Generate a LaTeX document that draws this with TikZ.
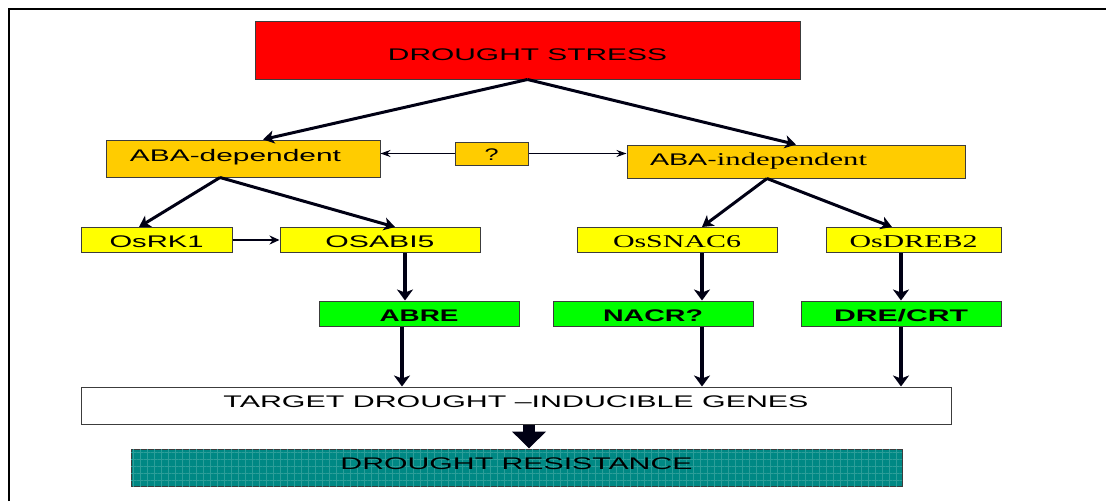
\documentclass[tikz,border=0pt]{standalone}
\usepackage{fontspec}
\setmainfont{Liberation Sans}
\newfontfamily\tmsfont{Liberation Serif}
\usepackage{graphicx}
\usetikzlibrary{arrows.meta,calc,patterns.meta}

\newcommand{\fw}[2]{\resizebox{#1}{\height}{#2}}
\newcommand{\tms}{\tmsfont\fontsize{18}{20}\selectfont}

\definecolor{dsred}{RGB}{255,0,0}
\definecolor{abagold}{RGB}{255,204,0}
\definecolor{genyel}{RGB}{255,255,0}
\definecolor{elgreen}{RGB}{0,255,0}
\definecolor{resteal}{RGB}{0,136,132}
\definecolor{resgrid}{RGB}{45,158,153}
\definecolor{arrcol}{RGB}{0,0,20}
\definecolor{boxline}{RGB}{60,60,60}

\begin{document}
\begin{tikzpicture}[x=1pt,y=-1pt,
  box/.style={draw=boxline, line width=1pt, inner sep=0pt, text=black,
    text height=12pt, text depth=0pt, font=\fontsize{16.8}{18}\selectfont},
  tx/.style 2 args={text height=#1, text depth=#2},
  thk/.style={draw=arrcol, line width=3pt, -{Stealth[length=11pt,width=13pt,inset=3pt]}},
  vthk/.style={draw=arrcol, line width=4.5pt, -{Stealth[length=11pt,width=16pt,inset=3pt]}},
  thin/.style={draw=arrcol, line width=1pt, -{Stealth[length=10pt,width=7pt]}},
  med/.style={draw=arrcol, line width=2pt, -{Stealth[length=10pt,width=9pt]}},
  bigarr/.style={draw=arrcol, line width=12pt, -{Triangle[length=17pt,width=33pt]}}
]
\useasboundingbox (0,0) rectangle (1106,501);

% outer frame
\draw[line width=1.5pt] (9,501) -- (9,9) -- (1106,9);

% nodes
\node[box, fill=dsred, minimum width=545pt, minimum height=58pt, tx={20pt}{0pt}]
  (ds) at (527.5,50) {\fw{279pt}{DROUGHT STRESS}};
\node[box, fill=abagold, minimum width=274pt, minimum height=37pt, tx={12pt}{7pt}]
  (abad) at (243,158.5) {\makebox[274pt][l]{\hspace{24pt}\fw{211pt}{ABA-dependent}}};
\node[box, fill=abagold, minimum width=73pt, minimum height=23pt, tx={14pt}{0pt}]
  (q) at (491.5,153.5) {\fw{14pt}{?}};
\node[box, fill=abagold, minimum width=338pt, minimum height=33pt, tx={12pt}{5pt}]
  (abai) at (796,161.5) {\makebox[338pt][l]{\hspace{23pt}\fw{217pt}{ABA-{\tms independent}}}};

\node[box, fill=genyel, minimum width=151pt, minimum height=25pt, tx={15pt}{0pt}]
  (osrk1) at (156.5,240) {\fw{94pt}{OsRK1}};
\node[box, fill=genyel, minimum width=200pt, minimum height=25pt, tx={15pt}{0pt}]
  (osabi5) at (380,240) {\fw{109pt}{OSABI5}};
\node[box, fill=genyel, minimum width=200pt, minimum height=25pt, tx={15pt}{0pt}]
  (ossnac6) at (677,240) {\fw{128pt}{\tms OsSNAC6}};
\node[box, fill=genyel, minimum width=175pt, minimum height=25pt, tx={15pt}{0pt}]
  (osdreb2) at (913.5,240) {\fw{128pt}{\tms OsDREB2}};

\node[box, fill=elgreen, minimum width=200pt, minimum height=25pt, tx={15pt}{0pt}]
  (abre) at (419,313.5) {\fw{79pt}{\bfseries ABRE}};
\node[box, fill=elgreen, minimum width=200pt, minimum height=25pt, tx={15pt}{0pt}]
  (nacr) at (653,313.5) {\fw{100pt}{\bfseries NACR?}};
\node[box, fill=elgreen, minimum width=200pt, minimum height=25pt, tx={15pt}{0pt}]
  (dre) at (901,313.5) {\fw{134pt}{\bfseries DRE/CRT}};

\node[box, fill=white, minimum width=870pt, minimum height=37pt, tx={12pt}{8pt}]
  (target) at (516,405.5) {\fw{585pt}{TARGET DROUGHT –INDUCIBLE GENES}};
\node[box, fill=resteal, minimum width=771pt, minimum height=37pt, tx={12pt}{9pt},
  postaction={pattern={Hatch[angle=0,distance=7pt,line width=0.8pt]}, pattern color=resgrid}]
  (res) at (516.5,467.5) {};
\node[inner sep=0pt, text height=12pt, text depth=9pt, font=\fontsize{16.8}{18}\selectfont]
  (restxt) at (res.center) {\fw{352pt}{DROUGHT RESISTANCE}};

% connectors
\draw[thk] (ds.south) -- ([xshift=20pt]abad.north);
\draw[thk] (ds.south) -- (abai.north);
\draw[thin] (q.west) -- (q.west -| abad.east);
\draw[thin] (q.east) -- (q.east -| abai.west);

\coordinate (abadb) at ([xshift=-23pt]abad.south);
\draw[thk] (abadb) -- ([xshift=-17.5pt]osrk1.north);
\draw[thk] (abadb) -- ([xshift=15pt]osabi5.north);
\coordinate (abaib) at ([xshift=-29pt]abai.south);
\draw[thk] (abaib) -- ([xshift=25pt]ossnac6.north);
\draw[thk] (abaib) -- ([xshift=-21.5pt]osdreb2.north);

\draw[med] (osrk1.east) -- (osabi5.west);

\coordinate (c1) at ([xshift=25pt]osabi5.south);
\draw[vthk] (c1) -- (c1 |- abre.north);
\coordinate (c2) at ([xshift=-17pt]abre.south);
\draw[vthk] (c2) -- (c2 |- target.north);
\coordinate (c3) at ([xshift=25pt]ossnac6.south);
\draw[vthk] (c3) -- (c3 |- nacr.north);
\coordinate (c4) at (c3 |- nacr.south);
\draw[vthk] (c4) -- (c4 |- target.north);
\coordinate (c5) at ([xshift=-12.5pt]osdreb2.south);
\draw[vthk] (c5) -- (c5 |- dre.north);
\coordinate (c6) at (c5 |- dre.south);
\draw[vthk] (c6) -- (c6 |- target.north);

\coordinate (bigx) at (529,0);
\draw[bigarr] (target.south -| bigx) -- (res.north -| bigx);
\end{tikzpicture}
\end{document}
